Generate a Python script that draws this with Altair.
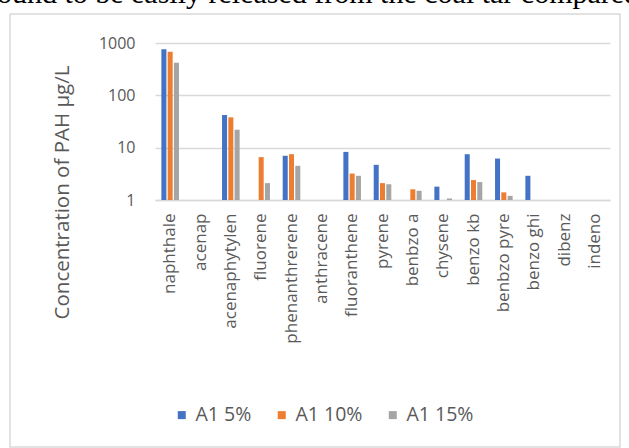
import altair as alt
import pandas as pd

categories = ["naphthale", "acenap", "acenaphytylen", "fluorene", "phenanthrerene",
              "anthracene", "fluoranthene", "pyrene", "benbzo a", "chysene",
              "benzo kb", "benbzo pyre", "benzo ghi", "dibenz", "indeno"]
series_names = ["A1 5%", "A1 10%", "A1 15%"]
a1_5 = [760, None, 42, None, 7.0, None, 8.3, 4.7, None, 1.8, 7.5, 6.2, 2.9, None, None]
a1_10 = [680, None, 38, 6.6, 7.5, None, 3.2, 2.1, 1.6, None, 2.4, 1.4, None, None, None]
a1_15 = [420, None, 22, 2.1, 4.5, None, 2.9, 2.0, 1.5, 1.07, 2.2, 1.2, None, None, None]
colors = ["#4472C4", "#ED7D31", "#A5A5A5"]
top_text = "ound to be easily released from the coal tar compared"

rows = []
for name, vals in zip(series_names, [a1_5, a1_10, a1_15]):
    for c, v in zip(categories, vals):
        if v is not None:
            rows.append({"compound": c, "series": name, "value": v})
df = pd.DataFrame(rows)

W, H = 455, 157
PL, PT = 155, 43
font = "Open Sans"

frame = alt.Chart(pd.DataFrame({"a": [0]})).mark_rect(
    fill="transparent", stroke="#D9D9D9", strokeWidth=1.5
).encode(
    x=alt.value(10 - PL), x2=alt.value(620 - PL),
    y=alt.value(14 - PT), y2=alt.value(447 - PT)
)

header = alt.Chart(pd.DataFrame({"t": [top_text]})).mark_text(
    font="Liberation Serif", fontSize=30, color="black", align="center", baseline="alphabetic"
).encode(
    x=alt.value(318 - PL), y=alt.value(2.5 - PT), text="t:N"
)

bars = alt.Chart(df).mark_bar().encode(
    x=alt.X("compound:N", sort=categories, title=None,
            scale=alt.Scale(domain=categories, paddingInner=0.42, paddingOuter=0.21),
            axis=alt.Axis(labelAngle=-90, labelFont=font, labelFontSize=17,
                          labelColor="#595959", ticks=False, domainColor="#D9D9D9",
                          domainWidth=1.5, labelPadding=13, labelAlign="right",
                          labelBaseline="middle")),
    xOffset=alt.XOffset("series:N", sort=series_names,
                        scale=alt.Scale(domain=series_names, paddingInner=0.2)),
    y=alt.Y("value:Q", scale=alt.Scale(type="log", domain=[1, 1000]),
            axis=alt.Axis(values=[1, 10, 100, 1000], format="d", ticks=False, domain=False,
                          gridColor="#D9D9D9", gridWidth=1.5, labelFont=font,
                          labelFontSize=16, labelColor="#595959", labelPadding=20,
                          title="Concentration of PAH µg/L", titleFont=font,
                          titleFontSize=20.5, titleFontWeight="normal", titleColor="#595959",
                          titleX=-93, titleY=149, titleAngle=-90, titleAlign="center",
                          titleBaseline="middle")),
    y2=alt.datum(1),
    color=alt.Color("series:N", sort=series_names,
                    scale=alt.Scale(domain=series_names, range=colors),
                    legend=alt.Legend(title=None, orient="none", direction="horizontal",
                                      legendX=172 - PL, legendY=405 - PT,
                                      symbolType="square", symbolSize=64,
                                      symbolStrokeWidth=0, labelFont=font,
                                      labelFontSize=19.5, labelColor="#595959",
                                      columnPadding=20, labelOffset=4))
)

chart = alt.layer(bars, frame, header).properties(
    width=W, height=H,
    autosize=alt.AutoSizeParams(type="none"),
    padding={"left": PL, "top": PT, "right": 629 - PL - W, "bottom": 448 - PT - H},
    background="white"
).configure_view(stroke=None)

chart.save("out.html", embed_options={"renderer": "svg", "actions": False})
